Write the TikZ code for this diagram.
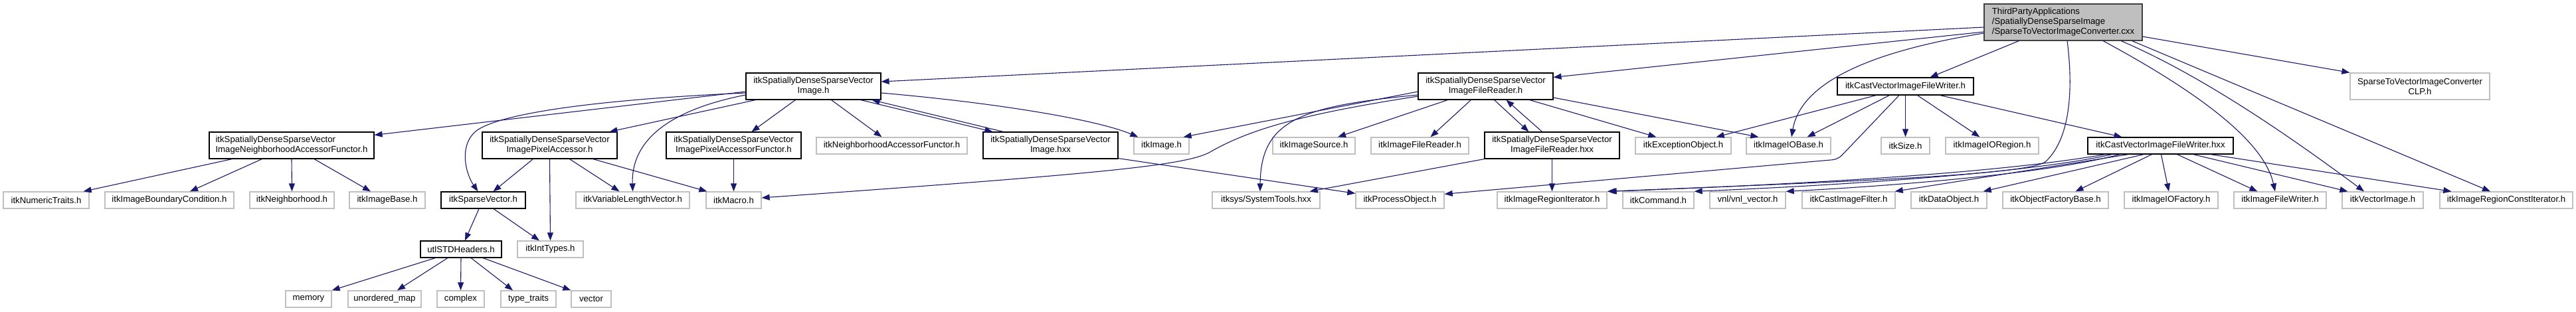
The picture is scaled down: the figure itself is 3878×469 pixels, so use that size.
\documentclass[tikz,border=0pt]{standalone}
\usepackage{fontspec}
\setmainfont{Liberation Sans}
\usetikzlibrary{arrows.meta}
\definecolor{edgeblue}{HTML}{191970}
\definecolor{leafgray}{HTML}{BFBFBF}
\definecolor{topfill}{HTML}{BFBFBF}
\definecolor{topdraw}{HTML}{404040}
\tikzset{
  lbl/.style={font=\fontsize{13.2pt}{15pt}\selectfont, inner sep=0pt, align=center, anchor=center, fill=white},
  gbox/.style={lbl, draw=leafgray, line width=1.3pt, minimum height=25pt},
  bbox/.style={lbl, draw=black, line width=1.1pt, minimum height=25pt},
  bbox2/.style={bbox, minimum height=40pt},
  topbox/.style={lbl, align=left, fill=topfill, draw=topdraw, line width=1.1pt},
  dep/.style={draw=edgeblue, line width=1.1pt, -{Triangle[length=12pt,width=9pt]}},
}
\begin{document}
\begin{tikzpicture}[x=1pt,y=-1pt]
\useasboundingbox (0,0) rectangle (3878,469);
\fill[white] (0,0) rectangle (3878,469);

% top node
\node[topbox, minimum width=238pt, minimum height=55pt] (top) at (3106,33.5) {ThirdPartyApplications\\/SpatiallyDenseSparseImage\\/SparseToVectorImageConverter.cxx};

% row A
\node[bbox2, minimum width=203pt] (imgh) at (1224.5,130) {itkSpatiallyDenseSparseVector\\Image.h};
\node[bbox2, minimum width=203pt] (frh) at (2236.5,130) {itkSpatiallyDenseSparseVector\\ImageFileReader.h};
\node[bbox, minimum width=205pt, minimum height=26pt] (cvwh) at (2868.5,130) {itkCastVectorImageFileWriter.h};
\node[gbox, minimum width=210pt, minimum height=40pt] (clp) at (3643,130) {SparseToVectorImageConverter\\CLP.h};

% row B
\node[bbox2, minimum width=248pt, align=left] (naf) at (439,219) {itkSpatiallyDenseSparseVector\\ImageNeighborhoodAccessorFunctor.h};
\node[bbox2, minimum width=203pt] (pa) at (827.5,219) {itkSpatiallyDenseSparseVector\\ImagePixelAccessor.h};
\node[bbox2, minimum width=203pt] (paf) at (1104.5,219) {itkSpatiallyDenseSparseVector\\ImagePixelAccessorFunctor.h};
\node[gbox, minimum width=227pt] (itknaf) at (1342.5,219.5) {itkNeighborhoodAccessorFunctor.h};
\node[bbox2, minimum width=203pt] (imghxx) at (1581.5,219) {itkSpatiallyDenseSparseVector\\Image.hxx};
\node[gbox, minimum width=83pt] (itkimage) at (1748.5,219.5) {itkImage.h};
\node[gbox, minimum width=124pt] (imgsrc) at (1978,219.5) {itkImageSource.h};
\node[gbox, minimum width=147pt] (ifr) at (2137.5,219.5) {itkImageFileReader.h};
\node[bbox2, minimum width=203pt] (frhxx) at (2336.5,219) {itkSpatiallyDenseSparseVector\\ImageFileReader.hxx};
\node[gbox, minimum width=144pt] (exc) at (2534,219.5) {itkExceptionObject.h};
\node[gbox, minimum width=127pt] (iobase) at (2692.5,219.5) {itkImageIOBase.h};
\node[gbox, minimum width=73pt] (size) at (2868.5,219.5) {itkSize.h};
\node[gbox, minimum width=140pt] (ioregion) at (2999,219.5) {itkImageIORegion.h};
\node[bbox, minimum width=219pt] (cvwhxx) at (3252.5,219.5) {itkCastVectorImageFileWriter.hxx};

% row C
\node[gbox, minimum width=129pt] (numtraits) at (69.5,301.5) {itkNumericTraits.h};
\node[gbox, minimum width=194pt] (ibc) at (255,301.5) {itkImageBoundaryCondition.h};
\node[gbox, minimum width=127pt] (neigh) at (439.5,301.5) {itkNeighborhood.h};
\node[gbox, minimum width=114pt] (ibase) at (583,301.5) {itkImageBase.h};
\node[bbox, minimum width=127pt] (spvec) at (727.5,301.5) {itkSparseVector.h};
\node[gbox, minimum width=171pt] (vlv) at (952.5,301.5) {itkVariableLengthVector.h};
\node[gbox, minimum width=83pt] (macro) at (1104.5,301.5) {itkMacro.h};
\node[gbox, minimum width=162pt] (systools) at (1906,301.5) {itksys/SystemTools.hxx};
\node[gbox, minimum width=133pt] (procobj) at (2107.5,301.5) {itkProcessObject.h};
\node[gbox, minimum width=165pt] (iri) at (2336.5,301.5) {itkImageRegionIterator.h};
\node[gbox, minimum width=107pt] (cmd) at (2496.5,301.5) {itkCommand.h};
\node[gbox, minimum width=114pt] (vnl) at (2631,301.5) {vnl/vnl\_vector.h};
\node[gbox, minimum width=140pt] (cif) at (2783,301.5) {itkCastImageFilter.h};
\node[gbox, minimum width=114pt] (dobj) at (2934,301.5) {itkDataObject.h};
\node[gbox, minimum width=159pt] (ofb) at (3094.5,301.5) {itkObjectFactoryBase.h};
\node[gbox, minimum width=141pt] (iof) at (3268.5,301.5) {itkImageIOFactory.h};
\node[gbox, minimum width=139pt] (ifw) at (3432.5,301.5) {itkImageFileWriter.h};
\node[gbox, minimum width=122pt] (vimg) at (3587,301.5) {itkVectorImage.h};
\node[gbox, minimum width=200pt] (ircit) at (3773,301.5) {itkImageRegionConstIterator.h};

% row D
\node[bbox, minimum width=122pt] (utl) at (694,375.5) {utlSTDHeaders.h};
\node[gbox, minimum width=99pt] (inttypes) at (828.5,375.5) {itkIntTypes.h};

% row E
\node[gbox, minimum width=69pt] (memory) at (464.5,450.5) {memory};
\node[gbox, minimum width=110pt] (umap) at (579,450.5) {unordered\_map};
\node[gbox, minimum width=71pt] (complex) at (693.5,450.5) {complex};
\node[gbox, minimum width=83pt] (ttraits) at (795.5,450.5) {type\_traits};
\node[gbox, minimum width=60pt] (vector) at (890,450.5) {vector};

% ---- edges from top node
\draw[dep] ([yshift=-7.5pt]top.west) -- ([yshift=7pt]imgh.east);
\draw[dep] ([yshift=-14.5pt]top.west) -- ([yshift=-7pt]frh.north east);
\draw[dep] ([yshift=-16.5pt]top.west) .. controls (2800,80) and (2710,130) .. ([xshift=4.5pt]iobase.north);
\draw[dep] ([xshift=53pt]top.south west) -- ([xshift=-66pt]cvwh.north east);
\draw[dep] ([xshift=6pt]top.south) .. controls (3122,140) and (3115,210) .. (3080,243) .. controls (3059,263) and (2800,273) .. (iri.north east);
\draw[dep] ([xshift=60pt]top.south) .. controls (3330,150) and (3410,220) .. ([xshift=-7.5pt]ifw.north);
\draw[dep] ([xshift=87pt]top.south) .. controls (3330,120) and (3480,230) .. ([xshift=-28pt]vimg.north);
\draw[dep] ([xshift=-16pt]top.south east) -- ([xshift=-24pt]ircit.north);
\draw[dep] ([yshift=-21.5pt]top.east) -- (clp.north west);

% ---- edges from Image.h
\draw[dep] ([yshift=-8pt]imgh.west) -- ([yshift=-5pt]naf.north east);
\draw[dep] ([yshift=-10pt]imgh.west) .. controls (900,150) and (760,170) .. (720,195) .. controls (690,215) and (700,260) .. ([xshift=-8pt]spvec.north);
\draw[dep] ([xshift=15pt]imgh.south west) -- ([xshift=-12pt]pa.north east);
\draw[dep] ([yshift=-13pt]imgh.west) .. controls (1010,165) and (950,210) .. (vlv.north);
\draw[dep] ([xshift=75pt]imgh.south west) -- ([xshift=27pt]paf.north);
\draw[dep] ([xshift=129pt]imgh.south west) -- ([xshift=-15pt]itknaf.north);
\draw[dep] ([xshift=-31pt]imgh.south east) -- ([xshift=15pt]imghxx.north west);
\draw[dep] ([xshift=31pt]imghxx.north west) -- ([xshift=-14pt]imgh.south east);
\draw[dep] ([yshift=-10pt]imgh.east) .. controls (1500,155) and (1650,180) .. ([xshift=7pt]itkimage.north west);

% ---- Image.hxx
\draw[dep] ([yshift=1pt]imghxx.south east) -- ([yshift=-3pt]procobj.north west);

% ---- NeighborhoodAccessorFunctor
\draw[dep] ([xshift=35pt]naf.south west) -- ([xshift=-9pt]numtraits.north east);
\draw[dep] ([xshift=80pt]naf.south west) -- ([xshift=31pt]ibc.north);
\draw[dep] (naf.south) -- (neigh.north);
\draw[dep] ([xshift=34pt]naf.south) -- ([xshift=-25pt]ibase.north);

% ---- PixelAccessor
\draw[dep] ([xshift=-25pt]pa.south) -- ([xshift=15pt]spvec.north);
\draw[dep] (pa.south) -- (inttypes.north);
\draw[dep] ([xshift=30pt]pa.south) -- ([xshift=-20pt]vlv.north);
\draw[dep] ([xshift=-37pt]pa.south east) -- ([xshift=2pt]macro.north west);
\draw[dep] (paf.south) -- (macro.north);

% ---- SparseVector, utlSTDHeaders
\draw[dep] ([xshift=-6.5pt]spvec.south) -- ([xshift=6pt]utl.north);
\draw[dep] ([xshift=15.5pt]spvec.south) -- ([xshift=-16.5pt]inttypes.north);
\draw[dep] ([xshift=23pt]utl.south west) -- (memory.north east);
\draw[dep] ([xshift=-20pt]utl.south) -- ([xshift=19pt]umap.north);
\draw[dep] (utl.south) -- (complex.north);
\draw[dep] ([xshift=15pt]utl.south) -- ([xshift=-23.5pt]ttraits.north);
\draw[dep] ([xshift=33pt]utl.south) -- (vector.north west);

% ---- ImageFileReader.h
\draw[dep] ([yshift=-15pt]frh.west) .. controls (1960,172) and (1880,195) .. (1820,230) .. controls (1780,250) and (1650,262) .. ([yshift=3.5pt]macro.east);
\draw[dep] ([yshift=-8pt]frh.west) -- ([xshift=-9pt]itkimage.north east);
\draw[dep] ([yshift=-13pt]frh.west) .. controls (1960,160) and (1898,180) .. ([xshift=-9pt]systools.north);
\draw[dep] ([xshift=45pt]frh.south west) -- ([xshift=36pt]imgsrc.north);
\draw[dep] ([xshift=80pt]frh.south west) -- ([xshift=16pt]ifr.north);
\draw[dep] ([xshift=115pt]frh.south west) -- ([xshift=-35pt]frhxx.north);
\draw[dep] ([xshift=-15pt]frhxx.north) -- ([xshift=133pt]frh.south west);
\draw[dep] ([xshift=-36pt]frh.south east) -- ([xshift=32pt]exc.north west);
\draw[dep] ([yshift=-17pt]frh.east) -- ([xshift=19pt]iobase.north west);

% ---- ImageFileReader.hxx
\draw[dep] (frhxx.south west) -- ([xshift=-16pt]systools.north east);
\draw[dep] (frhxx.south) -- (iri.north);

% ---- CastVectorImageFileWriter.h
\draw[dep, rounded corners=8pt] ([xshift=-9.5pt]cvwh.south) -- (2767,240) -- ([yshift=-4pt]procobj.north east);
\draw[dep] ([xshift=59pt]cvwh.south west) -- ([xshift=-23pt]exc.north east);
\draw[dep] ([xshift=79pt]cvwh.south west) -- ([xshift=-36pt]iobase.north east);
\draw[dep] (cvwh.south) -- (size.north);
\draw[dep] ([xshift=18pt]cvwh.south) -- ([xshift=52pt]ioregion.north west);
\draw[dep] ([xshift=52pt]cvwh.south) -- ([xshift=52pt]cvwhxx.north west);

% ---- CastVectorImageFileWriter.hxx
\draw[dep] ([xshift=27pt]cvwhxx.south west) .. controls (3000,262) and (2700,278) .. ([xshift=2pt]iri.north east);
\draw[dep] ([xshift=37pt]cvwhxx.south west) .. controls (3050,262) and (2750,280) .. (cmd.north east);
\draw[dep] ([xshift=49pt]cvwhxx.south west) .. controls (3080,262) and (2850,280) .. (vnl.north east);
\draw[dep] ([xshift=62pt]cvwhxx.south west) -- ([xshift=-1pt]cif.north east);
\draw[dep] ([xshift=85pt]cvwhxx.south west) -- ([xshift=-6pt]dobj.north east);
\draw[dep] ([xshift=97pt]cvwhxx.south west) -- ([xshift=30pt]ofb.north);
\draw[dep] ([xshift=111pt]cvwhxx.south west) -- ([xshift=-3.5pt]iof.north);
\draw[dep] ([xshift=135pt]cvwhxx.south west) -- ([xshift=36pt]ifw.north west);
\draw[dep] ([xshift=159pt]cvwhxx.south west) -- ([xshift=9pt]vimg.north west);
\draw[dep] ([xshift=185pt]cvwhxx.south west) -- ([xshift=18pt]ircit.north west);
\end{tikzpicture}
\end{document}
